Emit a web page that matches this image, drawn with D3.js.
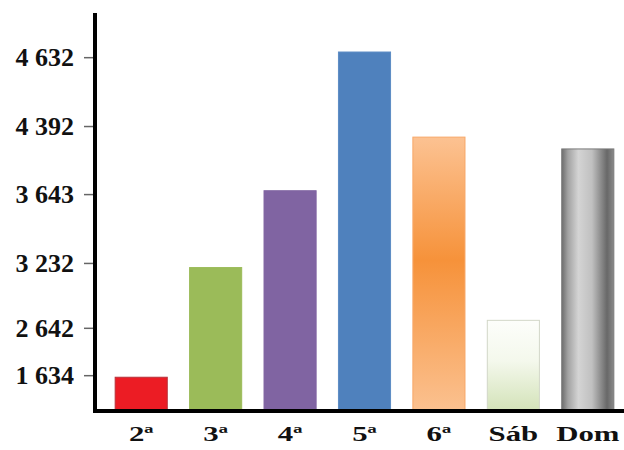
<!DOCTYPE html>
<html>
<head>
<meta charset="utf-8">
<script src="https://cdn.jsdelivr.net/npm/d3@7"></script>
<style>
  body { margin: 0; background: #fff; }
  svg { display: block; }
  svg text { font-family: "Liberation Serif"; font-weight: 700; fill: #111; }
</style>
</head>
<body>
<svg id="chart" width="624" height="450"></svg>
<script>
// Weekday totals
const days = ["2ª", "3ª", "4ª", "5ª", "6ª", "Sáb", "Dom"];
const totals = [1540, 3190, 3680, 4650, 4270, 2710, 4140];

// Labelled values on the vertical axis
const tickValues = [1634, 2642, 3232, 3643, 4392, 4632];
// Where each labelled value sits, as a share of the axis height
const tickStops = [0.090, 0.209, 0.372, 0.545, 0.716, 0.889];

const W = 624, H = 450;
const axisX = 95, plotBottom = 411, plotTop = 13;
const plotH = plotBottom - plotTop;
const serif = "Liberation Serif";

const svg = d3.select("#chart");

// Piecewise scale: 0 at the baseline, each labelled value at its stop
const y = d3.scaleLinear()
  .domain([0, ...tickValues])
  .range([plotBottom, ...tickStops.map(f => plotBottom - f * plotH)]);

const x = d3.scaleBand()
  .domain(days)
  .range([104, 625])
  .paddingInner(0.3)
  .paddingOuter(0.15);

// Gradients for the styled bars
const defs = svg.append("defs");

const gOrange = defs.append("linearGradient").attr("id", "gOrange")
  .attr("x1", 0).attr("y1", 0).attr("x2", 0).attr("y2", 1);
[[0, "#fcc292"], [0.45, "#f6923a"], [1, "#fbc190"]].forEach(([o, c]) =>
  gOrange.append("stop").attr("offset", o).attr("stop-color", c));

const gPale = defs.append("linearGradient").attr("id", "gPale")
  .attr("x1", 0).attr("y1", 0).attr("x2", 0).attr("y2", 1);
[[0, "#fdfefb"], [0.45, "#f4f8ec"], [1, "#d3e2b8"]].forEach(([o, c]) =>
  gPale.append("stop").attr("offset", o).attr("stop-color", c));

const gGrey = defs.append("linearGradient").attr("id", "gGrey")
  .attr("x1", 0).attr("y1", 0).attr("x2", 1).attr("y2", 0);
[[0, "#6c6c6c"], [0.12, "#a2a2a2"], [0.32, "#d4d4d4"], [0.58, "#c0c0c0"], [0.87, "#686868"], [1, "#8a8a8a"]]
  .forEach(([o, c]) => gGrey.append("stop").attr("offset", o).attr("stop-color", c));

const fills = ["#ec1c24", "#9bbb59", "#8064a2", "#4f81bd", "url(#gOrange)", "url(#gPale)", "url(#gGrey)"];
const strokes = ["#b8323a", "#9bbb59", "#8064a2", "#5d8cc4", "#f7a868", "#d2d7c8", "#7a7a7a"];

// Bars
svg.append("g").selectAll("rect")
  .data(days.map((d, i) => ({ day: d, value: totals[i], i })))
  .join("rect")
  .attr("x", d => x(d.day))
  .attr("y", d => y(d.value))
  .attr("width", x.bandwidth())
  .attr("height", d => plotBottom - y(d.value))
  .attr("fill", d => fills[d.i])
  .attr("stroke", d => strokes[d.i])
  .attr("stroke-width", 1);

// Vertical axis
const fmt = d3.formatLocale({ decimal: ",", thousands: " ", grouping: [3], currency: ["", ""] }).format(",d");
const yAxis = svg.append("g")
  .attr("transform", `translate(${axisX},0)`)
  .call(d3.axisLeft(y).tickValues(tickValues).tickFormat(fmt).tickSize(11).tickPadding(10));
yAxis.attr("font-family", serif).attr("font-size", 26);
yAxis.select(".domain").remove();
yAxis.selectAll(".tick line").attr("stroke", "#666").attr("stroke-width", 1.5);
yAxis.selectAll(".tick text")
  .attr("font-family", serif)
  .attr("font-weight", 700)
  .attr("font-size", 26)
  .attr("fill", "#111");

// Horizontal axis labels (set in a widened serif)
const xAxis = svg.append("g")
  .attr("transform", `translate(0,${plotBottom})`)
  .call(d3.axisBottom(x).tickSize(0));
xAxis.attr("font-family", serif).attr("font-size", 22);
xAxis.select(".domain").remove();
xAxis.selectAll(".tick text")
  .attr("y", 30).attr("dy", null)
  .attr("transform", "scale(1.4,1)")
  .attr("font-family", serif)
  .attr("font-weight", 700)
  .attr("font-size", 22)
  .attr("fill", "#111");

// Axis lines
svg.append("line")
  .attr("x1", axisX).attr("x2", axisX)
  .attr("y1", plotTop).attr("y2", plotBottom + 2)
  .attr("stroke", "#000").attr("stroke-width", 4);
svg.append("line")
  .attr("x1", axisX - 2).attr("x2", W)
  .attr("y1", plotBottom).attr("y2", plotBottom)
  .attr("stroke", "#000").attr("stroke-width", 4);
</script>
</body>
</html>
